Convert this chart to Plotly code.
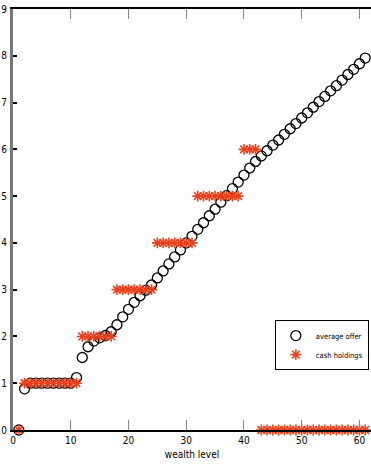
import plotly.graph_objects as go

wealth_level = list(range(1, 62))
average_offer = [
    0.0, 0.88, 1.0, 1.0, 1.0, 1.0, 1.0, 1.0, 1.0, 1.0,
    1.12, 1.55, 1.78, 1.9, 1.97, 2.02, 2.1, 2.25, 2.42, 2.58,
    2.73, 2.87, 2.99, 3.1, 3.25, 3.4, 3.55, 3.7, 3.85, 4.0,
    4.14, 4.29, 4.43, 4.58, 4.72, 4.87, 5.01, 5.16, 5.3, 5.45,
    5.6, 5.74, 5.86, 5.97, 6.09, 6.2, 6.32, 6.44, 6.55, 6.67,
    6.78, 6.9, 7.02, 7.13, 7.25, 7.36, 7.48, 7.6, 7.71, 7.83,
    7.95,
]
cash_holdings = (
    [0]
    + [1] * 10
    + [2] * 6
    + [3] * 7
    + [4] * 7
    + [5] * 8
    + [6] * 3
    + [0] * 19
)
x_ticks = [0, 10, 20, 30, 40, 50, 60]
y_ticks = [0, 1, 2, 3, 4, 5, 6, 7, 8, 9]

FONT = "Liberation Sans Narrow, DejaVu Sans Condensed, sans-serif"
RED = "#e8401c"

fig = go.Figure()
fig.add_trace(go.Scatter(
    x=wealth_level, y=average_offer, mode="markers", name="average offer",
    marker=dict(symbol="circle-open", size=10, color="black", line=dict(width=1.3, color="black")),
    cliponaxis=False,
))
fig.add_trace(go.Scatter(
    x=wealth_level, y=cash_holdings, mode="markers", name="cash holdings",
    marker=dict(symbol="asterisk-open", size=9, color=RED, line=dict(width=1.6, color=RED)),
    cliponaxis=False,
))

fig.update_layout(
    width=371, height=475,
    margin=dict(l=13, r=0, t=9, b=45, autoexpand=False),
    paper_bgcolor="white", plot_bgcolor="white",
    font=dict(family=FONT, size=10, color="black"),
    showlegend=True,
    legend=dict(
        x=0.994, y=0.261, xanchor="right", yanchor="top",
        bordercolor="black", borderwidth=1, bgcolor="white",
        font=dict(family=FONT, size=7.5, color="black"),
        tracegroupgap=0, itemwidth=30,
    ),
    xaxis=dict(
        range=[0, 62], tickvals=x_ticks, ticktext=[str(v) for v in x_ticks],
        showline=True, linecolor="black", linewidth=2, mirror="allticks",
        ticks="inside", ticklen=10, tickcolor="#888888", tickwidth=1,
        showgrid=False, zeroline=False,
        title=dict(text="wealth level", font=dict(family=FONT, size=10), standoff=6),
        tickfont=dict(family=FONT, size=10),
    ),
    yaxis=dict(
        range=[0, 9], tickvals=y_ticks, ticktext=[str(v) for v in y_ticks],
        showline=True, linecolor="#777777", linewidth=3,
        ticks="inside", ticklen=4, tickcolor="black", tickwidth=1.5,
        showgrid=False, zeroline=False,
        tickfont=dict(family=FONT, size=10),
        ticklabelstandoff=1,
    ),
    yaxis2=dict(
        range=[0, 9], tickvals=y_ticks, overlaying="y", side="right",
        showline=False, ticks="inside", ticklen=4, tickcolor="black", tickwidth=1.5,
        showticklabels=False, showgrid=False, zeroline=False,
    ),
)

fig.write_html(
    "out.html",
    config={"displayModeBar": False},
    post_script="document.body.style.margin='0';document.body.style.overflow='hidden';",
)
